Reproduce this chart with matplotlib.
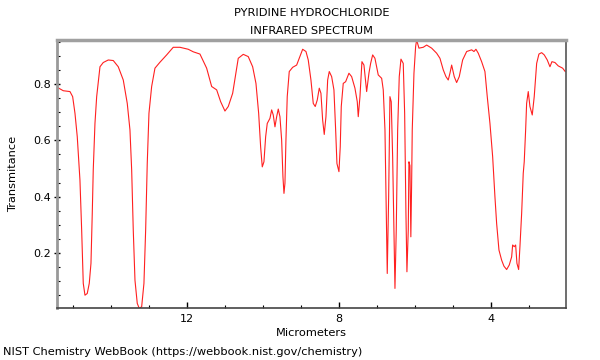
import matplotlib
matplotlib.use('Agg')
import matplotlib.pyplot as plt
from matplotlib.ticker import MultipleLocator

# wavelength (micrometers), left to right
um = [15.413, 15.255, 15.079, 15.008, 14.947, 14.887, 14.816, 14.771, 14.729, 14.684,
      14.624, 14.571, 14.526, 14.492, 14.466, 14.421, 14.376, 14.289, 14.203, 14.071,
      13.939, 13.808, 13.676, 13.571, 13.500, 13.455, 13.413, 13.368, 13.308, 13.255,
      13.192, 13.132, 13.087, 13.045, 13.000, 12.929, 12.842, 12.711, 12.534, 12.361,
      12.184, 11.966, 11.834, 11.658, 11.482, 11.350, 11.218, 11.113, 11.000, 10.913,
      10.797, 10.650, 10.518, 10.387, 10.271, 10.184, 10.113, 10.061, 10.018, 9.974,
      9.929, 9.887, 9.816, 9.771, 9.729, 9.684, 9.639, 9.597, 9.553, 9.508,
      9.474, 9.447, 9.421, 9.395, 9.361, 9.308, 9.218, 9.113, 9.045, 8.955,
      8.868, 8.808, 8.737, 8.676, 8.624, 8.571, 8.518, 8.474, 8.429, 8.387,
      8.342, 8.297, 8.255, 8.192, 8.132, 8.087, 8.053, 8.000, 7.966, 7.939,
      7.887, 7.824, 7.737, 7.666, 7.579, 7.518, 7.492, 7.447, 7.395, 7.342,
      7.271, 7.211, 7.166, 7.113, 7.053, 6.966, 6.876, 6.834, 6.789, 6.755,
      6.729, 6.692, 6.658, 6.624, 6.587, 6.553, 6.526, 6.492, 6.455, 6.413,
      6.368, 6.308, 6.271, 6.237, 6.211, 6.176, 6.158, 6.132, 6.108, 6.087,
      6.071, 6.026, 5.982, 5.955, 5.895, 5.782, 5.692, 5.561, 5.429, 5.342,
      5.255, 5.184, 5.124, 5.079, 5.034, 4.966, 4.903, 4.834, 4.745, 4.639,
      4.508, 4.447, 4.395, 4.334, 4.245, 4.158, 4.097, 4.026, 3.955, 3.895,
      3.850, 3.789, 3.718, 3.658, 3.587, 3.518, 3.455, 3.429, 3.387, 3.350,
      3.316, 3.271, 3.237, 3.192, 3.150, 3.124, 3.087, 3.061, 3.018, 2.974,
      2.913, 2.861, 2.797, 2.737, 2.666, 2.597, 2.518, 2.447, 2.395, 2.316,
      2.229, 2.113, 2.045]

trans = [0.788, 0.776, 0.773, 0.755, 0.696, 0.613, 0.459, 0.282, 0.093, 0.051,
         0.057, 0.093, 0.164, 0.341, 0.495, 0.660, 0.755, 0.861, 0.876, 0.885,
         0.883, 0.861, 0.814, 0.731, 0.637, 0.495, 0.282, 0.104, 0.022, 0.004,
         0.010, 0.093, 0.282, 0.518, 0.696, 0.791, 0.856, 0.877, 0.903, 0.930,
         0.930, 0.923, 0.914, 0.906, 0.856, 0.791, 0.779, 0.737, 0.704, 0.720,
         0.767, 0.891, 0.905, 0.897, 0.861, 0.802, 0.696, 0.577, 0.506, 0.524,
         0.613, 0.660, 0.678, 0.708, 0.690, 0.648, 0.684, 0.711, 0.684, 0.601,
         0.471, 0.412, 0.448, 0.601, 0.755, 0.844, 0.859, 0.867, 0.891, 0.923,
         0.915, 0.885, 0.814, 0.731, 0.720, 0.743, 0.785, 0.767, 0.672, 0.621,
         0.684, 0.814, 0.844, 0.826, 0.779, 0.637, 0.518, 0.489, 0.577, 0.720,
         0.802, 0.808, 0.838, 0.826, 0.785, 0.737, 0.684, 0.755, 0.879, 0.867,
         0.773, 0.838, 0.873, 0.903, 0.891, 0.832, 0.820, 0.779, 0.637, 0.341,
         0.128, 0.400, 0.755, 0.737, 0.542, 0.282, 0.075, 0.282, 0.637, 0.826,
         0.888, 0.873, 0.696, 0.341, 0.134, 0.282, 0.524, 0.510, 0.258, 0.450,
         0.637, 0.838, 0.933, 0.956, 0.927, 0.930, 0.938, 0.927, 0.909, 0.891,
         0.850, 0.826, 0.814, 0.838, 0.867, 0.826, 0.805, 0.826, 0.885, 0.915,
         0.921, 0.915, 0.923, 0.909, 0.879, 0.844, 0.755, 0.660, 0.542, 0.400,
         0.305, 0.211, 0.175, 0.154, 0.142, 0.158, 0.187, 0.229, 0.223, 0.229,
         0.164, 0.142, 0.223, 0.341, 0.483, 0.524, 0.637, 0.731, 0.773, 0.720,
         0.690, 0.755, 0.873, 0.906, 0.911, 0.903, 0.885, 0.861, 0.879, 0.876,
         0.864, 0.856, 0.844]

fig = plt.figure(figsize=(6, 3.6), dpi=100)
ax = fig.add_axes([0.095, 0.144, 0.848, 0.745])

ax.plot(um, trans, color='#ff2020', lw=0.8)

ax.set_xlim(15.42, 2.03)
ax.set_ylim(0.005, 0.956)

ax.xaxis.set_major_locator(MultipleLocator(4))
ax.xaxis.set_minor_locator(MultipleLocator(1))
ax.yaxis.set_major_locator(MultipleLocator(0.2))
ax.yaxis.set_minor_locator(MultipleLocator(0.05))
ax.tick_params(axis='x', which='major', direction='in', length=4.5, width=1, labelsize=8, pad=4)
ax.tick_params(axis='x', which='minor', direction='in', length=2.2, width=0.8)
ax.tick_params(axis='y', which='major', direction='inout', length=5, width=1, labelsize=8, pad=2)
ax.tick_params(axis='y', which='minor', direction='in', length=2.2, width=0.8)

ax.spines['left'].set_color('#999999')
ax.spines['left'].set_linewidth(2)
ax.spines['top'].set_color('#a0a0a0')
ax.spines['top'].set_linewidth(2.5)
ax.spines['right'].set_color('#555555')
ax.spines['right'].set_linewidth(1.2)
ax.spines['bottom'].set_color('#444444')
ax.spines['bottom'].set_linewidth(1.2)

ax.set_title('PYRIDINE HYDROCHLORIDE\nINFRARED SPECTRUM', fontsize=8.2, pad=4, linespacing=2.0)
ax.set_xlabel('Micrometers', fontsize=8.2, labelpad=3)
ax.set_ylabel('Transmitance', fontsize=8.2)
ax.yaxis.set_label_coords(-0.077, 0.5)

fig.text(0.005, 0.022, 'NIST Chemistry WebBook (https://webbook.nist.gov/chemistry)',
         fontsize=8.2, va='center', ha='left')

plt.savefig('out.png', dpi=100)
